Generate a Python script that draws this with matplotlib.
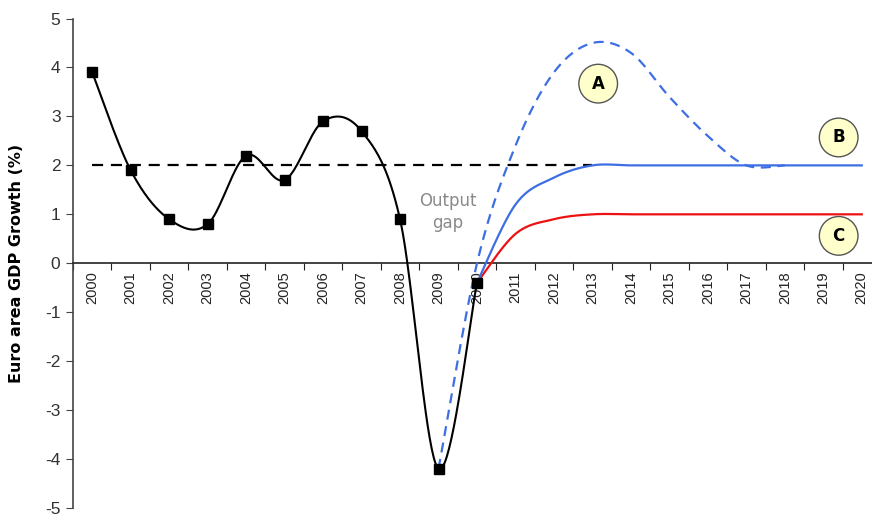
import numpy as np
import matplotlib
matplotlib.use("Agg")
import matplotlib.pyplot as plt

plt.rcParams['font.family'] = ['Liberation Sans', 'DejaVu Sans']
plt.rcParams['axes.unicode_minus'] = False

years = list(range(2000, 2021))

# actual growth 2000-2010
actual = [3.9, 1.9, 0.9, 0.8, 2.2, 1.7, 2.9, 2.7, 0.9, -4.2, -0.4]

# scenario A (overshoot) 2009-2018
scen_a = [-4.2, 0.0, 2.4, 3.9, 4.5, 4.3, 3.4, 2.6, 2.0, 2.0]
# scenario B (back to trend) 2010-2020
scen_b = [-0.4, 1.2, 1.75, 2.0, 2.0, 2.0, 2.0, 2.0, 2.0, 2.0, 2.0]
# scenario C (lower trend) 2010-2020
scen_c = [-0.4, 0.6, 0.9, 1.0, 1.0, 1.0, 1.0, 1.0, 1.0, 1.0, 1.0]

trend = 2.0
trend_end = 2013


def smooth(x, y, n=40):
    # Excel-style smoothed line: cubic Bezier segments with 1/6 tangents
    x = np.asarray(x, float)
    y = np.asarray(y, float)
    xp = np.concatenate([[x[0]], x, [x[-1]]])
    yp = np.concatenate([[y[0]], y, [y[-1]]])
    t = np.linspace(0, 1, n)[:, None]
    out_x, out_y = [], []
    for i in range(len(x) - 1):
        p0 = np.array([xp[i + 1], yp[i + 1]])
        p3 = np.array([xp[i + 2], yp[i + 2]])
        p1 = p0 + (p3 - np.array([xp[i], yp[i]])) / 6
        p2 = p3 - (np.array([xp[i + 3], yp[i + 3]]) - p0) / 6
        seg = ((1 - t) ** 3 * p0 + 3 * (1 - t) ** 2 * t * p1
               + 3 * (1 - t) * t ** 2 * p2 + t ** 3 * p3)
        out_x.append(seg[:, 0])
        out_y.append(seg[:, 1])
    return np.concatenate(out_x), np.concatenate(out_y)


blue = '#3d6ee3'
red = '#ee1111'

fig = plt.figure(figsize=(8.72, 5.15), dpi=100)
ax = fig.add_axes([0.0837, 0.0136, 0.9266, 0.9504])

xa = np.arange(len(actual))
x0a = years.index(2009)
x0b = years.index(2010)

# trend line
ax.plot([0, years.index(trend_end)], [trend, trend], color='black',
        lw=1.6, dashes=(5, 3.5), zorder=2)

sx, sy = smooth(x0a + np.arange(len(scen_a)), scen_a)
ax.plot(sx, sy, color=blue, lw=1.6, dashes=(4.5, 3), zorder=3)

sx, sy = smooth(x0b + np.arange(len(scen_c)), scen_c)
ax.plot(sx, sy, color=red, lw=1.6, zorder=3)

sx, sy = smooth(x0b + np.arange(len(scen_b)), scen_b)
ax.plot(sx, sy, color=blue, lw=1.6, zorder=3)

sx, sy = smooth(xa, actual)
ax.plot(sx, sy, color='black', lw=1.5, zorder=4)
ax.plot(xa, actual, 's', color='black', ms=6.5, zorder=5)

# scenario badges
badge = dict(boxstyle='circle,pad=0.62', fc='#ffffcc', ec='#555555', lw=1.0)
for label, bx, by in [('A', 13.15, 3.67), ('B', 19.4, 2.57), ('C', 19.4, 0.56)]:
    ax.text(bx, by, label, ha='center', va='center', fontsize=12,
            fontweight='bold', family='DejaVu Sans', bbox=badge, zorder=6)

ax.text(9.25, 1.04, 'Output\ngap', ha='center', va='center', fontsize=12,
        family='DejaVu Sans', color='#8a8a8a', linespacing=1.3, zorder=6)

ax.set_xlim(-0.5, len(years) - 0.5)
ax.set_ylim(-5, 5)

# axes styling: left spine plus a category axis along zero
for s in ['top', 'right']:
    ax.spines[s].set_visible(False)
ax.spines['bottom'].set_position(('data', 0))
ax.spines['left'].set_color('#444444')
ax.spines['bottom'].set_color('#222222')
ax.spines['left'].set_linewidth(1.2)
ax.spines['bottom'].set_linewidth(1.2)

ax.set_yticks(range(-5, 6))
ax.tick_params(axis='y', direction='out', length=5, color='#444444',
               labelsize=12.5, labelcolor='#333333', pad=4)

ax.set_xticks(np.arange(-0.5, len(years), 1.0))
ax.set_xticklabels([])
ax.tick_params(axis='x', which='major', direction='out', length=5,
               color='#222222')
ax.set_xticks(np.arange(len(years)), minor=True)
ax.set_xticklabels([str(y) for y in years], minor=True, rotation=90,
                   fontsize=10.5, color='#222222')
ax.tick_params(axis='x', which='minor', length=0, pad=6)

ax.set_ylabel('Euro area GDP Growth (%)', fontsize=11.5, fontweight='bold',
              family='DejaVu Sans')
ax.yaxis.set_label_coords(-0.061, 0.5)

fig.savefig('out.png', dpi=100)
